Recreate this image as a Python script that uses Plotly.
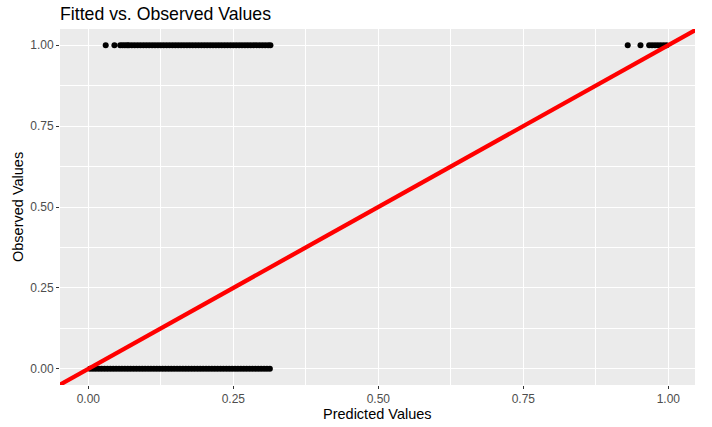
import plotly.graph_objects as go

# Observed = 0 group: predicted values (continuous band)
pred_obs0 = [0.003, 0.008, 0.013, 0.018, 0.023, 0.028, 0.033, 0.038, 0.043, 0.048,
             0.053, 0.058, 0.063, 0.068, 0.073, 0.078, 0.083, 0.088, 0.093, 0.098,
             0.103, 0.108, 0.113, 0.118, 0.123, 0.128, 0.133, 0.138, 0.143, 0.148,
             0.153, 0.158, 0.163, 0.168, 0.173, 0.178, 0.183, 0.188, 0.193, 0.198,
             0.203, 0.208, 0.213, 0.218, 0.223, 0.228, 0.233, 0.238, 0.243, 0.248,
             0.253, 0.258, 0.263, 0.268, 0.273, 0.278, 0.283, 0.288, 0.293, 0.298,
             0.303, 0.308, 0.313]
obs0 = [0] * len(pred_obs0)

# Observed = 1 group: predicted values
pred_obs1 = [0.030, 0.045, 0.055, 0.059, 0.063, 0.067, 0.070,
             0.075, 0.080, 0.085, 0.090, 0.095, 0.100, 0.105, 0.110, 0.115, 0.120,
             0.125, 0.130, 0.135, 0.140, 0.145, 0.150, 0.155, 0.160, 0.165, 0.170,
             0.175, 0.180, 0.185, 0.190, 0.195, 0.200, 0.205, 0.210, 0.215, 0.220,
             0.225, 0.230, 0.235, 0.240, 0.245, 0.250, 0.255, 0.260, 0.265, 0.270,
             0.275, 0.280, 0.285, 0.290, 0.295, 0.300, 0.305, 0.310, 0.314,
             0.930, 0.952, 0.967, 0.972, 0.977, 0.982, 0.987, 0.992, 0.997]
obs1 = [1] * len(pred_obs1)

# Reference line y = intercept + slope * x
line_intercept = 0.0
line_slope = 1.0
line_x = [-0.2, 1.2]
line_y = [line_intercept + line_slope * v for v in line_x]

tick_vals = [0.0, 0.25, 0.5, 0.75, 1.0]
tick_text = ["0.00", "0.25", "0.50", "0.75", "1.00"]

FONT = "Liberation Sans, Arial"

fig = go.Figure()
fig.add_trace(go.Scatter(
    x=pred_obs0 + pred_obs1, y=obs0 + obs1, mode="markers",
    marker=dict(color="black", size=6, line=dict(width=0)),
    showlegend=False, hoverinfo="x+y"))
fig.add_trace(go.Scatter(
    x=line_x, y=line_y, mode="lines",
    line=dict(color="#FF0000", width=4.3),
    showlegend=False, hoverinfo="skip"))

axis_common = dict(
    tickvals=tick_vals, ticktext=tick_text,
    showgrid=True, gridcolor="white", gridwidth=1.1,
    zeroline=False, showline=False, automargin=False,
    ticks="outside", ticklen=3, tickwidth=1, tickcolor="#333333",
    tickfont=dict(family=FONT, size=12, color="#4D4D4D"),
    minor=dict(dtick=0.125, tick0=0.125, showgrid=True, gridcolor="white", gridwidth=0.5, ticks=""),
)

fig.update_layout(
    width=712, height=427,
    margin=dict(l=60, r=17, t=29, b=42, autoexpand=False),
    paper_bgcolor="white", plot_bgcolor="#EBEBEB",
    title=dict(text="Fitted vs. Observed Values", x=60/712, xanchor="left",
               y=1 - 14/427, yanchor="middle", automargin=False,
               font=dict(family=FONT, size=17.7, color="black")),
    xaxis=dict(range=[-0.0488, 1.046], **axis_common),
    yaxis=dict(range=[-0.05, 1.05], **axis_common),
    annotations=[
        dict(text="Predicted Values", xref="paper", yref="paper",
             x=0.5, y=-29/356, xanchor="center", yanchor="middle", showarrow=False,
             font=dict(family=FONT, size=14.5, color="black")),
        dict(text="Observed Values", xref="paper", yref="paper",
             x=-42/635, y=0.5, xanchor="center", yanchor="middle", showarrow=False,
             textangle=-90, font=dict(family=FONT, size=14.5, color="black")),
    ],
)

fig.write_html("out.html", config={"displayModeBar": False},
               post_script="document.body.style.margin='0';")
